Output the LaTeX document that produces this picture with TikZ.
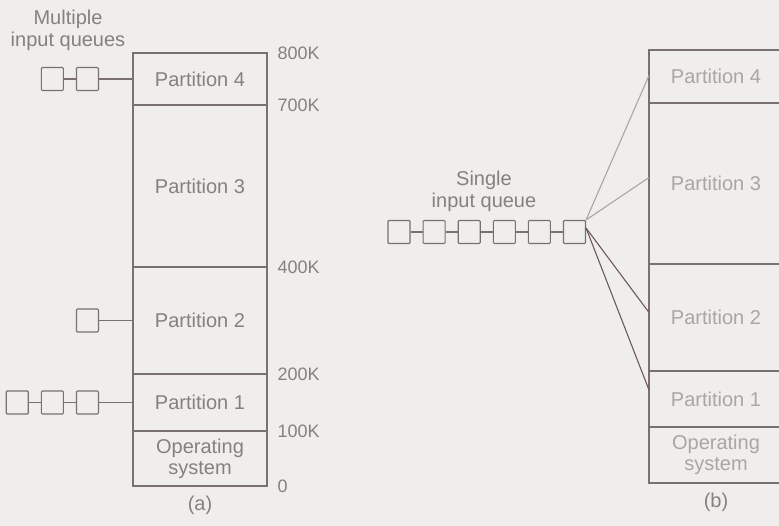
\documentclass[tikz,border=0pt]{standalone}
\usepackage{fontspec}
\setmainfont{Liberation Sans}
\usetikzlibrary{positioning}
\definecolor{cpaper}{HTML}{EFEEEC}
\definecolor{cline}{HTML}{7A7070}
\definecolor{ctext}{HTML}{878080}
\definecolor{cfade}{HTML}{ABA5A5}
\definecolor{cdark}{HTML}{6E5A58}
\tikzset{
  every picture/.style={line width=1.1pt, x=1pt, y=-1pt},
  part/.style={draw=cline, rectangle, minimum width=134pt, inner sep=0pt, outer sep=0pt,
    align=center, text=ctext, font=\fontsize{20}{21}\selectfont},
  qbox/.style={draw=cline, rectangle, rounded corners=1pt, minimum width=22pt, minimum height=23pt, inner sep=0pt},
  addr/.style={text=ctext, inner sep=0pt, font=\fontsize{18}{20}\selectfont},
  caption/.style={text=ctext, align=center, inner sep=0pt, font=\fontsize{20}{22}\selectfont},
  link/.style={draw=cline},
  feed/.style={draw=cdark},
  feedfaint/.style={draw=cfade},
}

\begin{document}
\begin{tikzpicture}
  \path[use as bounding box, fill=cpaper] (0,0) rectangle (779,526);
  \clip (0,0) rectangle (779,526);

  % (a) separate queues
  \node[part, anchor=north west, minimum height=52pt] (p4) at (133,53) {Partition 4};
  \node[part, minimum height=162pt, below=0pt of p4] (p3) {Partition 3};
  \node[part, minimum height=107pt, below=0pt of p3] (p2) {Partition 2};
  \node[part, minimum height=57pt, below=0pt of p2] (p1) {Partition 1};
  \node[part, minimum height=55pt, below=0pt of p1] (os) {Operating\\system};

  \node[addr, right=10pt of p4.north east] (k800) {800K};
  \node[addr, right=10pt of p4.south east] (k700) {700K};
  \node[addr, right=10pt of p3.south east] (k400) {400K};
  \node[addr, right=10pt of p2.south east] (k200) {200K};
  \node[addr, right=10pt of p1.south east] (k100) {100K};
  \node[addr, right=10pt of os.south east] (k0) {0};

  \node[qbox, left=34pt of p4] (q4b) {};
  \node[qbox, left=12pt of q4b] (q4a) {};
  \node[qbox, left=34pt of p2] (q2a) {};
  \node[qbox, left=34pt of p1] (q1c) {};
  \node[qbox, left=12pt of q1c] (q1b) {};
  \node[qbox, left=12pt of q1b] (q1a) {};
  \draw[link] (q4a) -- (q4b); \draw[link] (q4b) -- (p4);
  \draw[link] (q2a) -- (p2);
  \draw[link] (q1a) -- (q1b); \draw[link] (q1b) -- (q1c); \draw[link] (q1c) -- (p1);

  \node[caption] (multi) at (68,30) {Multiple\\input queues};
  \node[caption, below=9pt of os] (capa) {(a)};

  % (b) one shared queue
  \node[part, anchor=north west, minimum height=53pt, text=cfade] (r4) at (649,50) {Partition 4};
  \node[part, minimum height=161pt, below=0pt of r4, text=cfade] (r3) {Partition 3};
  \node[part, minimum height=107pt, below=0pt of r3, text=cfade] (r2) {Partition 2};
  \node[part, minimum height=56pt, below=0pt of r2, text=cfade] (r1) {Partition 1};
  \node[part, minimum height=56pt, below=0pt of r1, text=cfade] (ros) {Operating\\system};

  \node[qbox] (s1) at (399,232) {};
  \node[qbox, right=12pt of s1] (s2) {};
  \node[qbox, right=12pt of s2] (s3) {};
  \node[qbox, right=12pt of s3] (s4) {};
  \node[qbox, right=12pt of s4] (s5) {};
  \node[qbox, right=12pt of s5] (s6) {};
  \draw[link] (s1) -- (s2); \draw[link] (s2) -- (s3); \draw[link] (s3) -- (s4);
  \draw[link] (s4) -- (s5); \draw[link] (s5) -- (s6);

  \draw[feedfaint] (s6.north east) -- ([yshift=1pt]r4.west);
  \draw[feedfaint] (s6.north east) -- ([yshift=6pt]r3.west);
  \draw[feed] ([yshift=4pt]s6.east) -- ([yshift=5pt]r2.west);
  \draw[feed] ([yshift=4pt]s6.east) -- ([yshift=9pt]r1.west);

  \node[caption] (single) at (484,191) {Single\\input queue};
  \node[caption, below=9pt of ros] (capb) {(b)};
\end{tikzpicture}
\end{document}
